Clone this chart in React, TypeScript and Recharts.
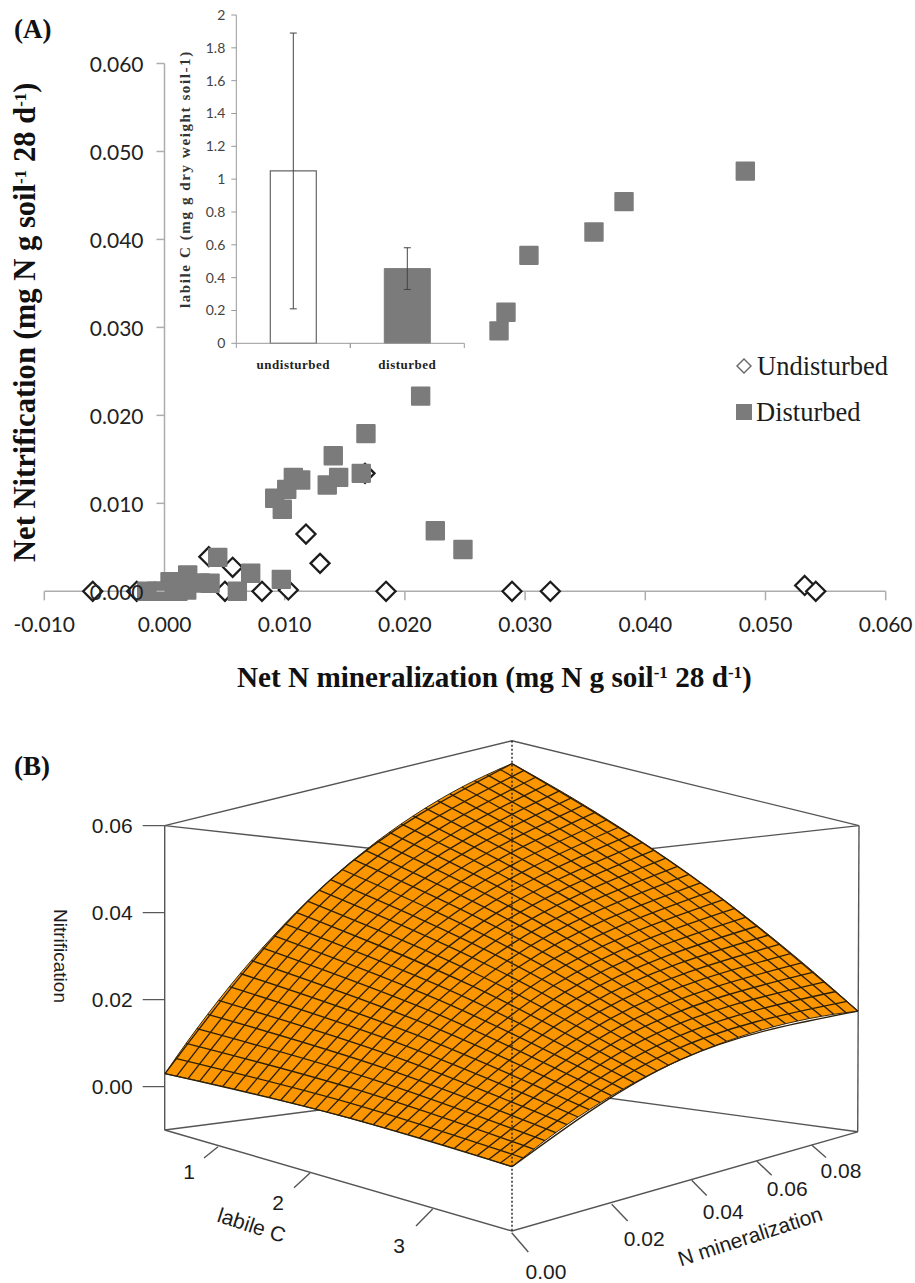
import { Bar, BarChart, Cell, ErrorBar, Label, Legend, ReferenceLine, Scatter, ScatterChart, XAxis, YAxis } from 'recharts'

const SERIF = '"Liberation Serif", "Times New Roman", serif'
const SANS = '"Liberation Sans", Arial, sans-serif'
const TICK_SANS = 'Lato, sans-serif'
const GREY = '#7b7b7b'
const AXIS_GREY = '#adadad'

// panel A: net N mineralization against net nitrification
const xTicksA = [-0.01, 0, 0.01, 0.02, 0.03, 0.04, 0.05, 0.06]
const yTicksA = [0, 0.01, 0.02, 0.03, 0.04, 0.05, 0.06]
const undisturbedX = [-0.00597, -0.00231, 0.00369, 0.00567, 0.00503, 0.00811, 0.0103, 0.01177, 0.01294, 0.01843, 0.01668, 0.02891, 0.0321, 0.05326, 0.05418]
const undisturbedY = [0, 0, 0.00393, 0.00273, 0, 0, 0.00015, 0.00651, 0.00318, 0, 0.01341, 0, 0, 0.00066, 0]
const disturbedX = [0.04832, 0.03823, 0.03573, 0.03032, 0.02841, 0.02783, 0.02131, 0.02483, 0.02253, 0.01676, 0.01404, 0.01637, 0.01449, 0.01354, 0.01133, 0.01072, 0.01017, 0.00917, 0.0098, 0.00972, 0.00717, 0.00606, 0.00443, 0.00193, 0.00379, 0.00295, 0.00185, 0.00046, 0.00046, 0.00112, -0.00148, -0.00065, -0.00012]
const disturbedY = [0.04777, 0.0443, 0.04085, 0.03819, 0.03173, 0.02961, 0.02219, 0.00475, 0.00689, 0.01793, 0.01541, 0.01341, 0.01295, 0.01208, 0.01265, 0.01295, 0.01159, 0.01057, 0.00932, 0.00136, 0.00205, 0, 0.00386, 0.00185, 0.00091, 0.00094, 0.00015, 0.00109, 0, 0, 0, 0, 0]

// inset: labile C
const insetCategories = ['undisturbed', 'disturbed']
const insetMeans = [1.05, 0.455]
const insetErrors = [0.84, 0.127]
const insetTicks = [0, 0.2, 0.4, 0.6, 0.8, 1, 1.2, 1.4, 1.6, 1.8, 2]

// panel B: the persp() plot. h/v are picture-plane units (h across from the front
// edge, v up from the 0.00 tick). The mesh nodes are estimates: a few anchors were
// read off the picture along each edge and the nodes spaced by eye between them.
const PLANE_PER_Z = 4350
const zTicks = [0, 0.02, 0.04, 0.06]

const leftTopH = [-347, -336.5, -325.9, -315.2, -304.4, -293.6, -282.7, -271.8, -260.7, -249.6, -238.4, -227.2, -215.9, -204.5, -193, -181.5, -169.9, -158.2, -146.5, -134.7, -122.8, -110.8, -98.8, -86.7, -74.5, -62.3, -50, -37.6, -25.1, -12.6, 0]
const leftTopV = [13, 28.4, 43.4, 58, 72.4, 86.3, 100, 113.2, 126.2, 138.8, 151, 162.9, 174.4, 185.6, 196.5, 207, 217.2, 227, 236.4, 245.6, 254.3, 262.8, 270.8, 278.6, 286, 293, 299.7, 306, 312, 317.7, 323]
const frontRightH = [0, 10.9, 21.8, 32.8, 43.8, 54.9, 66, 77.2, 88.4, 99.6, 110.9, 122.2, 133.6, 145, 156.5, 168, 179.6, 191.2, 202.8, 214.5, 226.2, 238, 249.8, 261.7, 273.6, 285.6, 297.6, 309.6, 321.7, 333.8, 346]
const frontRightV = [-80, -71.1, -62.4, -54, -45.9, -38, -30.3, -23, -15.9, -9, -2.4, 4, 10, 15.9, 21.4, 26.8, 31.8, 36.6, 41.1, 45.4, 49.4, 53.2, 56.7, 60, 63, 65.7, 68.2, 70.4, 72.4, 74.1, 75.5]
const leftFrontH = [-347, -335.4, -323.9, -312.3, -300.7, -289.2, -277.6, -266, -254.5, -242.9, -231.3, -219.8, -208.2, -196.6, -185.1, -173.5, -161.9, -150.4, -138.8, -127.2, -115.7, -104.1, -92.5, -81, -69.4, -57.8, -46.3, -34.7, -23.1, -11.6, 0]
const leftFrontV = [13, 10.5, 8, 5.5, 2.9, 0.3, -2.4, -5.1, -7.9, -10.7, -13.6, -16.5, -19.4, -22.4, -25.4, -28.5, -31.6, -34.8, -38, -41.3, -44.6, -47.9, -51.3, -54.7, -58.2, -61.7, -65.3, -68.9, -72.6, -76.3, -80]
const topRightH = [0, 12.1, 24.1, 36, 48, 59.9, 71.8, 83.6, 95.4, 107.2, 118.9, 130.6, 142.2, 153.9, 165.5, 177, 188.5, 200, 211.4, 222.9, 234.2, 245.6, 256.9, 268.1, 279.4, 290.6, 301.7, 312.8, 323.9, 335, 346]
const topRightV = [323, 316.4, 309.7, 302.9, 296, 289, 281.8, 274.6, 267.2, 259.7, 252.1, 244.3, 236.5, 228.5, 220.4, 212.3, 203.9, 195.5, 187, 178.3, 169.6, 160.7, 151.7, 142.6, 133.3, 124, 114.5, 104.9, 95.2, 85.4, 75.5]
const midAcrossH = [-181.5, -169.6, -157.7, -145.8, -134, -122.1, -110.3, -98.5, -86.7, -75, -63.2, -51.5, -39.8, -28.1, -16.4, -4.75, 6.9, 18.5, 30.1, 41.7, 53.3, 64.8, 76.4, 87.9, 99.4, 110.9, 122.3, 133.8, 145.2, 156.6, 168]
const midAcrossV = [207, 202.2, 197.2, 192.2, 187.1, 182, 176.7, 171.4, 166, 160.5, 154.9, 149.3, 143.6, 137.8, 131.9, 125.9, 119.9, 113.7, 107.5, 101.2, 94.9, 88.4, 81.9, 75.3, 68.6, 61.8, 55, 48.1, 41, 34, 26.8]
const midUpH = [-173.5, -162.7, -151.8, -140.8, -129.8, -118.7, -107.6, -96.4, -85.1, -73.8, -62.5, -51, -39.5, -28, -16.4, -4.75, 7, 18.7, 30.6, 42.4, 54.4, 66.4, 78.5, 90.6, 102.7, 115, 127.3, 139.6, 152, 164.5, 177]
const midUpV = [-28.5, -16.1, -4, 7.8, 19.3, 30.5, 41.4, 52, 62.3, 72.3, 82, 91.4, 100.5, 109.2, 117.7, 125.9, 133.8, 141.4, 148.6, 155.6, 162.3, 168.6, 174.7, 180.5, 185.9, 191.1, 195.9, 200.5, 204.7, 208.7, 212.3]

const backRoofH = [-347.3, 0, 347]
const backRoofV = [261.1, 222.7, 261.1]
const backFloorH = [-347.3, 0, 345.7]
const backFloorV = [-43.3, 1.7, -45.1]
const frontRoofH = [-347.3, 0, 347]
const frontRoofV = [261.1, 346, 261.1]
const frontFloorH = [-347.3, 0, 345.7]
const frontFloorV = [-43.3, -144.3, -45.1]
const leftPostH = [-347.3, -347.3]
const leftPostV = [261.1, -43.3]
const rightPostH = [347, 345.7]
const rightPostV = [261.1, -45.1]
const frontPostH = [0, 0]
const frontPostV = [346, -144.3]

const labileTickStartH = [-294, -202, -79.3]
const labileTickStartV = [-60, -86.3, -122.3]
const labileTickEndH = [-308, -218, -96]
const labileTickEndV = [-71.3, -101, -139.3]
const mineralTickStartH = [-0.3, 99.7, 179.7, 244.7, 299.7]
const mineralTickStartV = [-146, -117.6, -93.6, -74.3, -58.2]
const mineralTickEndH = [16.3, 115.7, 194.7, 259.7, 314]
const mineralTickEndV = [-165.3, -134.3, -108.8, -88.6, -70.9]

const floorLabels = ['1', '2', '3', '0.00', '0.02', '0.04', '0.06', '0.08', 'labile C', 'N mineralization']
const floorLabelH = [-323, -234, -113, 34, 132.3, 211.3, 275.3, 329, -260.3, 238]
const floorLabelV = [-85, -116, -158.3, -184.3, -152, -124.7, -101.7, -83.3, -138.3, -149.3]
const floorLabelAngle = [0, 0, 0, 0, 0, 0, 0, 0, 18, -18]

const toPlane = (h: number[], v: number[]) => h.map((value, i) => ({ h: value, v: v[i] }))

const undisturbedData = undisturbedX.map((x, i) => ({ x, y: undisturbedY[i] }))
const disturbedData = disturbedX.map((x, i) => ({ x, y: disturbedY[i] }))
const insetData = insetCategories.map((name, i) => ({ name, mean: insetMeans[i], err: insetErrors[i] }))

const surfaceOutline = [
  ...toPlane(leftTopH, leftTopV),
  ...toPlane(topRightH, topRightV),
  ...toPlane(frontRightH, frontRightV).reverse(),
  ...toPlane(leftFrontH, leftFrontV).reverse(),
]
const meshUp = leftFrontH.map((_, i) =>
  toPlane([leftFrontH[i], midAcrossH[i], topRightH[i]], [leftFrontV[i], midAcrossV[i], topRightV[i]]),
)
const meshAcross = leftTopH.map((_, i) =>
  toPlane([leftTopH[i], midUpH[i], frontRightH[i]], [leftTopV[i], midUpV[i], frontRightV[i]]),
)
const labileTicks = labileTickStartH.map((_, i) =>
  toPlane([labileTickStartH[i], labileTickEndH[i]], [labileTickStartV[i], labileTickEndV[i]]),
)
const mineralTicks = mineralTickStartH.map((_, i) =>
  toPlane([mineralTickStartH[i], mineralTickEndH[i]], [mineralTickStartV[i], mineralTickEndV[i]]),
)
const floorLabelData = floorLabels.map((text, i) => ({ text, h: floorLabelH[i], v: floorLabelV[i], angle: floorLabelAngle[i] }))

const noMark = () => null

function Square({ cx, cy }: any) {
  return <rect x={cx - 9.7} y={cy - 9.7} width={19.4} height={19.4} rx={1} fill={GREY} />
}

function Diamond({ cx, cy }: any) {
  return <path d={`M${cx} ${cy - 9.5}L${cx + 9.5} ${cy}L${cx} ${cy + 9.5}L${cx - 9.5} ${cy}Z`} fill="#fff" stroke="#1c1c1c" strokeWidth={2.3} />
}

// y axis of panel A crosses at x = 0, so ticks are moved there from the plot's left edge
function ZeroCrossingTick({ y, payload }: any) {
  const zeroX = 164.5
  return (
    <g>
      <line x1={zeroX - 8} x2={zeroX} y1={y} y2={y} stroke={AXIS_GREY} strokeWidth={1.5} />
      <text x={zeroX - 21} y={y} textAnchor="end" dominantBaseline="central" fontFamily={TICK_SANS} fontSize={21} fill="#222">
        {payload.value.toFixed(3)}
      </text>
    </g>
  )
}

function InsetCategoryTick({ x, y, payload }: any) {
  const halfBand = 57
  return (
    <g>
      <line x1={x - halfBand} x2={x - halfBand} y1={343.3} y2={348} stroke="#999" />
      <line x1={x + halfBand} x2={x + halfBand} y1={343.3} y2={348} stroke="#999" />
      <text x={x} y={y + 18} textAnchor="middle" fontFamily={SERIF} fontWeight="bold" fontSize={13} letterSpacing={0.5} fill="#222">
        {payload.value}
      </text>
    </g>
  )
}

function FloorLabel({ cx, cy, payload }: any) {
  return (
    <text
      x={cx}
      y={cy}
      textAnchor="middle"
      dominantBaseline="central"
      transform={`rotate(${payload.angle} ${cx} ${cy})`}
      fontFamily={SANS}
      fontSize={21}
      fill="#1c1c1c"
    >
      {payload.text}
    </text>
  )
}

function UnitText({ main }: { main: string }) {
  return (
    <>
      {main} (mg N g soil
      <tspan dy={-9} fontSize={17}>-1</tspan>
      <tspan dy={9}> 28 d</tspan>
      <tspan dy={-9} fontSize={17}>-1</tspan>
      <tspan dy={9}>)</tspan>
    </>
  )
}

function LegendContent() {
  return (
    <div style={{ fontFamily: SERIF, fontSize: 26.5, color: '#1c1c1c', lineHeight: '46px' }}>
      <div style={{ display: 'flex', alignItems: 'center', gap: 4 }}>
        <svg width={18} height={18}>
          <path d="M9 2L16 9L9 16L2 9Z" fill="#fff" stroke="#666" strokeWidth={1.4} />
        </svg>
        Undisturbed
      </div>
      <div style={{ display: 'flex', alignItems: 'center', gap: 3 }}>
        <svg width={18} height={18}>
          <rect x={1} y={1} width={16} height={16} fill={GREY} />
        </svg>
        Disturbed
      </div>
    </div>
  )
}

function PanelA() {
  return (
    <ScatterChart width={915} height={700} margin={{ top: 63.5, right: 29.3, bottom: 48.7, left: 0 }}>
      <XAxis
        type="number"
        dataKey="x"
        domain={[-0.01, 0.06]}
        ticks={xTicksA}
        tickFormatter={(value: number) => value.toFixed(3)}
        height={60}
        stroke={AXIS_GREY}
        strokeWidth={1.5}
        tickSize={9}
        tickMargin={17}
        tick={{ fontFamily: TICK_SANS, fontSize: 21, fill: '#222' }}
        interval={0}
      >
        <Label
          content={() => (
            <text x={237} y={686.5} fontFamily={SERIF} fontWeight="bold" fontSize={29.2} fill="#111">
              <UnitText main="Net N mineralization" />
            </text>
          )}
        />
      </XAxis>
      <YAxis
        type="number"
        dataKey="y"
        domain={[0, 0.06]}
        ticks={yTicksA}
        width={44.3}
        axisLine={false}
        tickLine={false}
        tick={<ZeroCrossingTick />}
        interval={0}
      >
        <Label
          content={() => (
            <text transform="translate(35 562) rotate(-90)" fontFamily={SERIF} fontWeight="bold" fontSize={30.6} fill="#111">
              <UnitText main="Net Nitrification" />
            </text>
          )}
        />
      </YAxis>
      <ReferenceLine x={0} stroke={AXIS_GREY} strokeWidth={1.5} />
      <Legend
        layout="vertical"
        align="center"
        verticalAlign="middle"
        content={<LegendContent />}
        wrapperStyle={{ position: 'absolute', left: 735, top: 343, width: 170, height: 92 }}
      />
      <Scatter name="Undisturbed" data={undisturbedData} shape={<Diamond />} isAnimationActive={false} />
      <Scatter name="Disturbed" data={disturbedData} shape={<Square />} isAnimationActive={false} />
    </ScatterChart>
  )
}

function Inset() {
  return (
    <BarChart width={300} height={380} data={insetData} margin={{ top: 15, right: 5.7, bottom: 0, left: 0 }} barSize={46}>
      <XAxis dataKey="name" height={36.7} stroke="#999" tickLine={false} tick={<InsetCategoryTick />} interval={0} />
      <YAxis
        domain={[0, 2]}
        ticks={insetTicks}
        width={66.3}
        stroke="#999"
        tickSize={5}
        tickMargin={6}
        interval={0}
        tick={{ fontFamily: TICK_SANS, fontSize: 14, fill: '#444' }}
      >
        <Label
          content={() => (
            <text transform="translate(20 308) rotate(-90)" fontFamily={SERIF} fontWeight="bold" fontSize={15} letterSpacing={1.6} fill="#333">
              labile C (mg g dry weight soil-1)
            </text>
          )}
        />
      </YAxis>
      <Bar dataKey="mean" isAnimationActive={false}>
        <Cell fill="#fff" stroke="#666" strokeWidth={1.2} />
        <Cell fill={GREY} stroke={GREY} />
        <ErrorBar dataKey="err" width={3.5} stroke="#444" strokeWidth={1} isAnimationActive={false} />
      </Bar>
    </BarChart>
  )
}

function frameLine(key: string, h: number[], v: number[], stroke = '#555', dash?: string) {
  return (
    <Scatter
      key={key}
      data={toPlane(h, v)}
      shape={noMark}
      line={{ stroke, strokeWidth: 1.4, strokeDasharray: dash }}
      isAnimationActive={false}
    />
  )
}

function PanelB() {
  return (
    <ScatterChart width={915} height={558} margin={{ top: 0, right: 56, bottom: 0, left: 0 }}>
      <XAxis type="number" dataKey="h" domain={[-347.3, 347]} hide height={0} />
      <YAxis
        type="number"
        dataKey="v"
        domain={[-196.3, 361.7]}
        ticks={zTicks.map((z) => z * PLANE_PER_Z)}
        tickFormatter={(value: number) => (value / PLANE_PER_Z).toFixed(2)}
        width={164.7}
        axisLine={false}
        stroke="#333"
        tickSize={22}
        tickMargin={10}
        interval={0}
        tick={{ fontFamily: SANS, fontSize: 21, fill: '#1c1c1c' }}
      >
        <Label
          content={() => (
            <text x={60} y={231} textAnchor="middle" dominantBaseline="central" transform="rotate(90 60 231)" fontFamily={SANS} fontSize={19} fill="#1c1c1c">
              Nitrification
            </text>
          )}
        />
      </YAxis>

      {frameLine('back-roof', backRoofH, backRoofV)}
      {frameLine('back-floor', backFloorH, backFloorV)}
      {frameLine('front-roof', frontRoofH, frontRoofV)}
      {frameLine('front-floor', frontFloorH, frontFloorV)}
      {frameLine('left-post', leftPostH, leftPostV)}
      {frameLine('right-post', rightPostH, rightPostV)}

      <Scatter
        data={surfaceOutline}
        shape={noMark}
        line={{ fill: '#fb9600', stroke: '#3b2a10', strokeWidth: 1 }}
        isAnimationActive={false}
      />
      {[...meshUp, ...meshAcross].map((mesh, i) => (
        <Scatter
          key={i}
          data={mesh}
          shape={noMark}
          line={{ stroke: '#2e2008', strokeWidth: 1.35 }}
          lineJointType="natural"
          isAnimationActive={false}
        />
      ))}
      {frameLine('front-post', frontPostH, frontPostV, '#222', '2 2')}

      {[...labileTicks, ...mineralTicks].map((tick, i) => (
        <Scatter key={i} data={tick} shape={noMark} line={{ stroke: '#555', strokeWidth: 1.4 }} isAnimationActive={false} />
      ))}
      <Scatter data={floorLabelData} shape={<FloorLabel />} isAnimationActive={false} />
    </ScatterChart>
  )
}

const panelLabel = { position: 'absolute', left: 14, fontFamily: SERIF, fontWeight: 'bold', fontSize: 27, lineHeight: '27px', color: '#111' } as const

export default function App() {
  return (
    <div style={{ position: 'absolute', left: 0, top: 0, width: 915, height: 1283, background: '#fff', overflow: 'hidden' }}>
      <div style={{ position: 'absolute', left: 0, top: 0 }}>
        <PanelA />
      </div>
      <div style={{ position: 'absolute', left: 170, top: 0 }}>
        <Inset />
      </div>
      <div style={{ position: 'absolute', left: 0, top: 725 }}>
        <PanelB />
      </div>
      <div style={{ ...panelLabel, top: 16 }}>(A)</div>
      <div style={{ ...panelLabel, top: 753 }}>(B)</div>
    </div>
  )
}
